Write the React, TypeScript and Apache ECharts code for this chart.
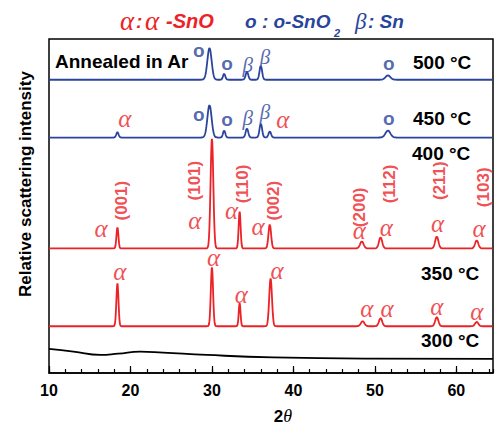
import React, { useEffect, useRef } from "react";
import * as echarts from "echarts";

const X_MIN = 10;
const X_MAX = 64.5;
const STEP = 0.04;

const RED = "#ec2227";
const BLUE = "#2a449c";

// 500 °C (blue)
const base500 = 87.8;
const pos500 = [29.7, 31.5, 34.3, 36.0, 51.6];
const hgt500 = [9.5, 1.8, 2.4, 4.2, 1.3];
const wid500 = [0.26, 0.14, 0.16, 0.16, 0.3];

// 450 °C (blue)
const base450 = 70.5;
const pos450 = [18.4, 29.7, 31.5, 34.3, 36.0, 37.1, 51.6];
const hgt450 = [1.6, 9.7, 2.1, 2.7, 4.2, 1.8, 2.1];
const wid450 = [0.14, 0.26, 0.14, 0.16, 0.16, 0.16, 0.3];

// 400 °C (red)
const base400 = 37.3;
const pos400 = [18.4, 30.0, 33.4, 37.1, 48.4, 50.7, 57.6, 62.5];
const hgt400 = [6.3, 32.8, 11.0, 7.2, 2.1, 3.3, 3.6, 2.4];
const wid400 = [0.12, 0.17, 0.12, 0.16, 0.22, 0.2, 0.2, 0.2];

// 350 °C (red)
const base350 = 14.0;
const pos350 = [18.4, 30.0, 33.4, 37.2, 48.5, 50.7, 57.6, 62.5];
const hgt350 = [12.8, 17.6, 6.9, 14.3, 1.5, 2.4, 2.7, 1.3];
const wid350 = [0.13, 0.14, 0.11, 0.17, 0.22, 0.2, 0.2, 0.2];

// 300 °C (black, amorphous)
const curve300X = [10, 13, 16.3, 18.5, 21.2, 24, 29.4, 37.5, 49.8, 64.5];
const curve300Y = [7.2, 6.4, 5.4, 5.8, 6.4, 6.1, 5.4, 4.7, 4.3, 4.2];

// annotations
const alphaRed: number[][] = [
  [19.3, 75.5], [38.7, 75.3],
  [16.4, 42.7], [27.9, 45.2], [32.4, 48.1], [35.65, 43.2], [48.1, 42.2], [51.4, 42.9], [57.7, 44.2], [62.8, 42.7],
  [18.7, 29.8], [30.2, 33.9], [33.6, 22.8], [38.0, 30.2], [49.0, 18.8], [51.5, 18.8], [57.6, 19.3], [62.5, 17.8],
];
const oBlue: number[][] = [
  [28.4, 96.2], [31.85, 92.4], [51.7, 92.4],
  [28.4, 77.0], [31.85, 75.5], [51.7, 75.8],
];
const betaBlue: number[][] = [
  [34.4, 92.2], [36.5, 94.6],
  [34.4, 76.3], [36.5, 78.0],
];
const hklX = [18.9, 27.9, 33.8, 37.5, 48.1, 51.8, 57.9, 63.3];
const hklY = [51.6, 57.6, 56.6, 51.6, 49.6, 56.6, 57.6, 55.6];
const hklText = ["(001)", "(101)", "(110)", "(002)", "(200)", "(112)", "(211)", "(103)"];

const tempText = ["500 °C", "450 °C", "400 °C", "350 °C", "300 °C"];

function pattern(base: number, pos: number[], hgt: number[], wid: number[]) {
  const out: number[][] = [];
  for (let x = X_MIN; x <= X_MAX + 1e-9; x += STEP) {
    let y = base;
    for (let i = 0; i < pos.length; i++) {
      const d = (x - pos[i]) / wid[i];
      y += hgt[i] * Math.exp(-0.5 * d * d);
    }
    out.push([+x.toFixed(3), y]);
  }
  return out;
}

const SANS = "Arial, 'Liberation Sans', Helvetica, sans-serif";
const SERIF = "'Liberation Serif', 'Times New Roman', serif";

export default function App() {
  const ref = useRef<HTMLDivElement>(null);
  useEffect(() => {
    if (!ref.current) return;
    const chart = echarts.init(ref.current, undefined, { renderer: "svg" });
    const lineSeries = (data: number[][], color: string, smooth = false) => ({
      type: "line",
      data,
      showSymbol: false,
      smooth,
      lineStyle: { color, width: 1.8 },
      silent: true,
    });
    const labelSeries = (data: any[], color: string, font: any, offset: number[] = [0, 0]) => ({
      type: "scatter",
      data,
      symbolSize: 1,
      itemStyle: { color: "rgba(0,0,0,0)" },
      silent: true,
      label: {
        show: true,
        position: "inside",
        offset,
        color,
        ...font,
      },
    });
    const txt = (text: string, x: number, y: number, extra: any) => ({
      type: "text",
      x,
      y,
      style: { text, verticalAlign: "middle", ...extra },
    });
    const sansB = (size: number, fill: string, italic = false) => ({
      fontFamily: SANS,
      fontWeight: "bold",
      fontStyle: italic ? "italic" : "normal",
      fontSize: size,
      fill,
    });
    const serifI = (size: number, fill: string) => ({
      fontFamily: SERIF,
      fontStyle: "italic",
      fontSize: size,
      fill,
    });
    const tempPos = [
      [413, 62],
      [413, 118],
      [412, 153],
      [421, 273],
      [421, 340],
    ];
    chart.setOption({
      animation: false,
      grid: {
        left: 49,
        right: 4,
        top: 39,
        bottom: 52,
        show: true,
        borderColor: "#000",
        borderWidth: 1.5,
      },
      xAxis: [
        {
          type: "value",
          min: X_MIN,
          max: X_MAX,
          interval: 10,
          axisLine: { show: true, lineStyle: { color: "#000", width: 1.5 } },
          axisTick: { show: true, inside: true, length: 7, lineStyle: { color: "#000", width: 1.2 } },
          axisLabel: {
            showMaxLabel: false,
            formatter: (v: number) => (v % 10 === 0 ? String(v) : ""),
            color: "#000",
            fontFamily: SANS,
            fontWeight: "bold",
            fontSize: 16,
            margin: 9,
          },
          splitLine: { show: false },
        },
        {
          type: "value",
          min: X_MIN,
          max: X_MAX,
          interval: 2,
          position: "bottom",
          axisLine: { show: false },
          axisTick: { show: true, inside: true, length: 4, lineStyle: { color: "#000", width: 1.2 } },
          axisLabel: { show: false },
          splitLine: { show: false },
        },
      ],
      yAxis: { type: "value", min: 0, max: 100, show: false },
      series: [
        lineSeries(pattern(base500, pos500, hgt500, wid500), BLUE),
        lineSeries(pattern(base450, pos450, hgt450, wid450), BLUE),
        lineSeries(pattern(base400, pos400, hgt400, wid400), RED),
        lineSeries(pattern(base350, pos350, hgt350, wid350), RED),
        lineSeries(curve300X.map((x, i) => [x, curve300Y[i]]), "#000", true),
        labelSeries(
          alphaRed.map((p) => [p[0], p[1]]),
          RED,
          { formatter: () => "α", fontFamily: SERIF, fontStyle: "italic", fontSize: 25 },
          [0, -2]
        ),
        labelSeries(
          oBlue.map((p) => [p[0], p[1]]),
          BLUE,
          { formatter: () => "o", fontFamily: SANS, fontWeight: "bold", fontSize: 19 },
          [0, -1]
        ),
        labelSeries(
          betaBlue.map((p) => [p[0], p[1]]),
          BLUE,
          { formatter: () => "β", fontFamily: SERIF, fontStyle: "italic", fontSize: 21 }
        ),
        labelSeries(
          hklX.map((x, i) => [x, hklY[i], hklText[i]]),
          RED,
          {
            formatter: (p: any) => p.data[2],
            fontFamily: SANS,
            fontWeight: "bold",
            fontSize: 17,
            rotate: 90,
          }
        ),
      ],
      graphic: [
        txt("α", 120, 21, serifI(27, RED)),
        txt(":", 136, 21, sansB(19, RED, true)),
        txt("α", 145, 21, serifI(27, RED)),
        txt("-SnO", 166, 21, sansB(20, RED, true)),
        txt("o : o-SnO", 245, 21, sansB(19, BLUE, true)),
        txt("2", 334, 33, sansB(11, BLUE, true)),
        txt("β", 355, 21, serifI(23, BLUE)),
        txt(": Sn", 368, 21, sansB(19, BLUE, true)),
        txt("Annealed in Ar", 55, 61, sansB(19, "#000")),
        ...tempText.map((t, i) => txt(t, tempPos[i][0], tempPos[i][1], sansB(19, "#000"))),
        {
          type: "text",
          x: 283,
          y: 416,
          style: {
            text: "{a|2}{b|θ}",
            align: "center",
            verticalAlign: "middle",
            rich: {
              a: { fontFamily: SANS, fontWeight: "bold", fontSize: 17, fill: "#000" },
              b: { fontFamily: SERIF, fontStyle: "italic", fontSize: 18, fill: "#000" },
            },
          },
        },
        {
          type: "text",
          x: 25,
          y: 184,
          rotation: Math.PI / 2,
          style: {
            text: "Relative scattering intensity",
            align: "center",
            verticalAlign: "middle",
            fontFamily: SANS,
            fontWeight: "bold",
            fontSize: 17,
            fill: "#000",
          },
        },
      ],
    });
    return () => chart.dispose();
  }, []);
  return <div ref={ref} style={{ width: 497, height: 425, position: "absolute", left: 0, top: 0 }} />;
}
